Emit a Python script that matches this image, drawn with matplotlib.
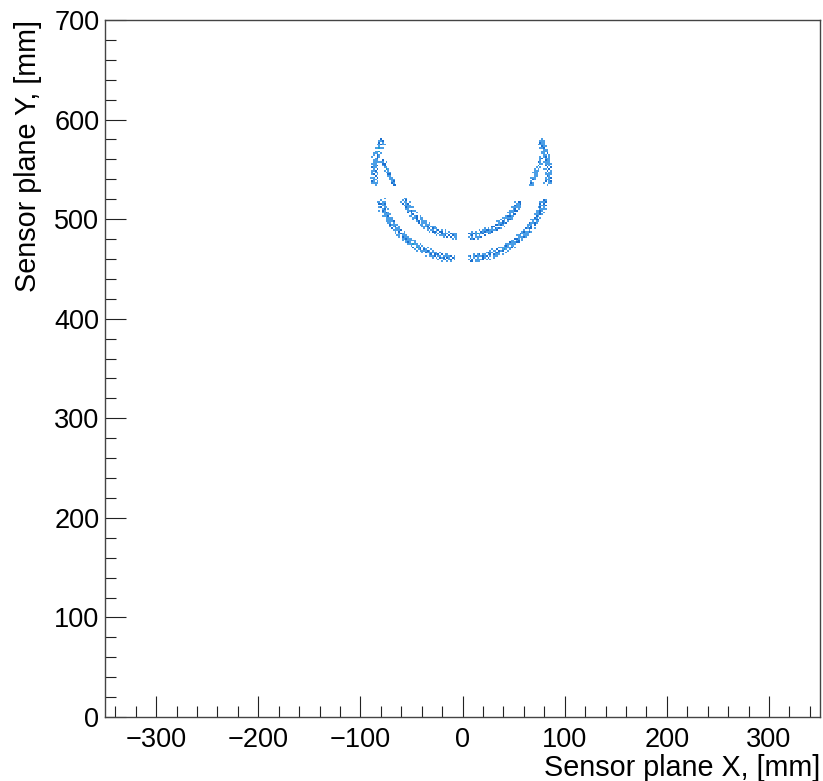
import numpy as np
import matplotlib
matplotlib.use("Agg")
import matplotlib.pyplot as plt
from matplotlib.colors import ListedColormap, BoundaryNorm
from matplotlib.ticker import MultipleLocator

plt.rcParams['font.family'] = ['Liberation Sans', 'DejaVu Sans']

# ---------------- data (hits) ----------------
# ring hits in polar form (angle from downward direction in deg, radius in mm)
OUTER_CENTER_Y = 544.0
INNER_CENTER_Y = 546.0

outer_left = [(-72.8,83.1),(-72.1,85.6),(-71.5,82.4),(-70.9,84.9),(-70.2,86.3),(-69.8,83.7),(-69.1,81.9),(-68.5,84.2),
 (-67.9,85.8),(-67.2,83.0),(-66.8,84.6),(-66.1,82.7),(-65.4,86.0),(-64.9,83.9),(-64.3,85.1),(-63.6,82.2),(-63.0,84.4),
 (-62.4,86.5),(-61.9,83.3),(-61.2,84.8),(-60.6,82.8),(-60.0,85.5),(-59.3,83.6),(-58.8,81.8),(-58.1,84.9),(-57.5,86.1),
 (-56.9,83.2),(-56.2,84.4),(-55.7,82.5),(-55.0,85.7),(-54.4,83.9),(-53.8,84.7),(-53.1,82.1),(-52.6,86.2),(-51.9,83.4),
 (-51.3,85.0),(-50.7,82.9),(-50.0,84.3),(-49.4,85.9),(-48.8,83.1),(-48.1,84.6),(-47.6,82.4),(-46.9,85.3),(-46.3,83.8),
 (-45.7,86.4),(-45.0,82.6),(-44.5,84.5),(-43.8,83.3),(-43.2,85.6),(-42.6,84.0),(-41.9,82.2),(-41.3,85.1),(-40.8,83.6),
 (-40.1,86.0),(-39.5,84.3),(-38.9,82.8),(-38.2,85.4),(-37.7,83.5),(-37.0,84.9),(-36.4,82.3),(-35.8,85.8),(-35.1,83.9),
 (-34.6,84.4),(-33.9,82.6),(-33.3,86.3),(-32.7,83.2),(-32.0,84.7),(-31.5,85.5),(-30.8,82.9),(-30.2,84.1),(-29.6,86.1),
 (-28.9,83.4),(-28.4,84.8),(-27.7,82.5),(-27.1,85.2),(-26.5,83.7),(-25.8,84.3),(-25.3,82.0),(-24.6,85.9),(-24.0,83.6),
 (-23.4,84.6),(-22.7,82.7),(-22.2,86.2),(-21.5,83.3),(-20.9,84.9),(-20.3,82.4),(-19.6,85.4),(-19.1,83.8),(-18.4,84.2),
 (-17.8,86.0),(-17.2,82.9),(-16.5,84.5),(-15.9,83.1),(-15.3,85.7),(-14.7,84.0),(-14.0,82.3),(-13.4,85.1),(-12.8,83.5),
 (-12.2,84.7),(-11.6,86.4),(-10.9,82.8),(-10.3,84.4),(-9.7,83.2),(-9.1,85.6),(-8.4,84.1),(-7.8,82.6),(-7.2,85.0),
 (-6.5,83.7),(-5.9,84.6),(-5.3,82.9)]

outer_left_b = [(-72.5,80.6),(-71.8,87.4),(-71.2,81.3),(-70.6,86.9),(-70.0,84.1),(-69.4,80.9),(-68.8,87.8),(-68.2,82.4),
 (-67.6,85.3),(-67.0,81.0),(-66.4,88.0),(-65.8,83.2),(-65.2,86.1),(-64.6,80.5),(-64.0,87.1),(-63.4,82.8),(-62.8,85.0),
 (-62.2,81.5),(-61.6,87.6),(-61.0,84.0),(-60.4,80.8),(-59.8,86.7),(-59.2,82.0),(-58.6,88.1),(-58.0,83.5),(-57.4,81.2),
 (-56.8,87.2),(-56.2,85.9),(-55.6,80.7),(-55.0,86.5),(-54.4,82.3),(-53.8,87.9),(-53.2,84.6),(-52.6,81.0),(-52.0,86.8),
 (-51.4,83.0),(-50.8,87.5),(-50.2,80.9),(-49.6,85.4),(-49.0,82.1),(-48.4,88.2),(-47.8,84.0),(-47.2,81.4),(-46.6,86.9),
 (-46.0,83.3),(-45.4,80.6),(-44.8,87.3),(-44.2,85.2),(-43.6,81.7),(-43.0,86.6),(-42.4,82.5),(-41.8,88.0),(-41.2,84.3),
 (-40.6,80.8),(-40.0,87.0),(-39.4,83.1),(-38.8,86.2),(-38.2,81.1),(-37.6,87.7),(-37.0,82.9),(-36.4,85.6),(-35.8,80.5),
 (-35.2,87.1),(-34.6,83.8),(-34.0,81.6),(-33.4,86.5),(-32.8,82.2),(-32.2,88.1),(-31.6,84.4),(-31.0,80.9),(-30.4,87.4),
 (-29.8,83.0),(-29.2,85.8),(-28.6,81.3),(-28.0,86.9),(-27.4,82.6),(-26.8,87.6),(-26.2,84.1),(-25.6,80.7),(-25.0,86.3),
 (-24.4,82.9),(-23.8,88.0),(-23.2,83.6),(-22.6,81.2),(-22.0,87.2),(-21.4,85.1),(-20.8,80.8),(-20.2,86.7),(-19.6,82.4),
 (-19.0,87.9),(-18.4,84.8),(-17.8,81.5),(-17.2,86.4),(-16.6,83.2),(-16.0,87.5),(-15.4,80.6),(-14.8,85.5),(-14.2,82.0),
 (-13.6,88.2),(-13.0,84.2),(-12.4,81.0),(-11.8,87.0),(-11.2,83.4),(-10.6,86.1),(-10.0,80.9),(-9.4,87.3),(-8.8,82.7),
 (-8.2,85.7),(-7.6,81.4),(-7.0,86.8),(-6.4,83.9),(-5.8,80.7)]

outer_right = [(4.3,84.2),(4.9,82.1),(5.4,85.9),(6.0,83.4),(6.5,86.8),(7.1,84.7),(7.6,81.6),(8.2,83.9),(8.7,85.3),(9.3,82.7),
 (9.8,84.5),(10.4,87.0),(10.9,83.1),(11.5,85.6),(12.0,81.9),(12.6,84.0),(13.1,86.2),(13.7,82.9),(14.2,84.8),(14.8,83.5),
 (15.3,85.9),(15.9,82.3),(16.4,84.3),(17.0,86.6),(17.5,83.7),(18.1,81.8),(18.6,85.1),(19.2,84.4),(19.7,82.6),(20.3,86.0),
 (20.8,83.2),(21.4,84.9),(21.9,82.0),(22.5,85.7),(23.0,83.8),(23.6,86.9),(24.1,84.1),(24.7,82.4),(25.2,85.3),(25.8,83.6),
 (26.3,84.7),(26.9,81.7),(27.4,86.3),(28.0,83.0),(28.5,85.0),(29.1,84.2),(29.6,82.8),(30.2,86.1),(30.7,83.9),(31.3,85.5),
 (31.8,82.2),(32.4,84.6),(32.9,87.1),(33.5,83.3),(34.0,85.2),(34.6,81.9),(35.1,84.0),(35.7,86.4),(36.2,82.7),(36.8,84.9),
 (37.3,83.4),(37.9,85.8),(38.4,82.1),(39.0,84.5),(39.5,86.7),(40.1,83.6),(40.6,85.4),(41.2,82.5),(41.7,84.1),(42.3,86.0),
 (42.8,83.1),(43.4,84.8),(43.9,81.8),(44.5,85.6),(45.0,83.7),(45.6,86.5),(46.1,84.3),(46.7,82.3),(47.2,85.1),(47.8,83.5),
 (48.3,84.6),(48.9,82.0),(49.4,86.2),(50.0,83.2),(50.5,85.3),(51.1,84.0),(51.6,82.6),(52.2,85.9),(52.7,83.8),(53.3,84.7),
 (53.8,82.2),(54.4,86.3),(54.9,83.4),(55.5,85.0),(56.0,84.2),(56.6,82.8),(57.1,85.7),(57.7,83.0),(58.2,84.5),(58.8,86.6),
 (59.3,82.4),(59.9,84.9),(60.4,83.6),(61.0,85.5),(61.5,82.1),(62.1,84.3),(62.6,86.1),(63.2,83.3),(63.7,85.2),(64.3,82.7),
 (64.8,84.6),(65.4,83.9),(65.9,86.0),(66.5,82.5),(67.0,84.8),(67.6,83.1),(68.1,85.4),(68.7,84.0),(69.2,82.3),(69.8,85.8),
 (70.3,83.7),(70.9,84.5),(71.4,82.9),(72.0,85.1),(72.5,83.5)]

outer_right_b = [(4.6,80.8),(5.2,87.6),(5.8,81.9),(6.4,86.4),(7.0,84.4),(7.6,80.5),(8.2,87.9),(8.8,82.6),(9.4,85.8),
 (10.0,80.9),(10.6,88.2),(11.2,83.3),(11.8,86.3),(12.4,80.6),(13.0,87.2),(13.6,82.9),(14.2,85.2),(14.8,81.3),(15.4,87.7),
 (16.0,84.1),(16.6,80.7),(17.2,86.9),(17.8,82.1),(18.4,88.3),(19.0,83.6),(19.6,81.1),(20.2,87.4),(20.8,85.6),(21.4,80.4),
 (22.0,86.6),(22.6,82.5),(23.2,88.0),(23.8,84.7),(24.4,81.0),(25.0,86.9),(25.6,83.2),(26.2,87.5),(26.8,80.8),(27.4,85.5),
 (28.0,82.3),(28.6,88.1),(29.2,84.2),(29.8,81.5),(30.4,87.1),(31.0,83.4),(31.6,80.6),(32.2,87.3),(32.8,85.3),(33.4,81.8),
 (34.0,86.7),(34.6,82.6),(35.2,88.2),(35.8,84.5),(36.4,80.9),(37.0,87.0),(37.6,83.1),(38.2,86.4),(38.8,81.2),(39.4,87.8),
 (40.0,83.0),(40.6,85.7),(41.2,80.5),(41.8,87.2),(42.4,83.9),(43.0,81.7),(43.6,86.6),(44.2,82.4),(44.8,88.3),(45.4,84.6),
 (46.0,80.8),(46.6,87.5),(47.2,83.1),(47.8,85.9),(48.4,81.4),(49.0,87.0),(49.6,82.7),(50.2,87.7),(50.8,84.3),(51.4,80.7),
 (52.0,86.4),(52.6,83.0),(53.2,88.1),(53.8,83.7),(54.4,81.3),(55.0,87.3),(55.6,85.2),(56.2,80.9),(56.8,86.8),(57.4,82.5),
 (58.0,87.9),(58.6,84.9),(59.2,81.6),(59.8,86.5),(60.4,83.3),(61.0,87.6),(61.6,80.7),(62.2,85.6),(62.8,82.2),(63.4,88.0),
 (64.0,84.3),(64.6,81.1),(65.2,87.1),(65.8,83.5),(66.4,86.2),(67.0,81.0),(67.6,87.4),(68.2,82.8),(68.8,85.8),(69.4,81.5),
 (70.0,86.9),(70.6,84.0),(71.2,80.8),(71.8,86.3),(72.4,82.7),(72.9,85.5)]

inner_left = [(-65.6,62.4),(-64.8,64.9),(-63.9,61.2),(-63.1,63.8),(-62.2,65.5),(-61.4,62.0),(-60.5,64.2),(-59.7,60.9),
 (-58.8,63.3),(-58.0,65.8),(-57.1,62.6),(-56.3,64.6),(-55.4,61.5),(-54.6,63.9),(-53.7,65.2),(-52.9,62.2),(-52.0,63.5),
 (-51.2,61.0),(-50.3,64.8),(-49.5,62.8),(-48.6,65.9),(-47.8,63.1),(-46.9,61.7),(-46.1,64.3),(-45.2,62.5),(-44.4,65.0),
 (-43.5,63.6),(-42.7,61.3),(-41.8,64.0),(-41.0,62.1),(-40.1,65.4),(-39.3,63.2),(-38.4,61.8),(-37.6,64.5),(-36.7,62.9),
 (-35.9,65.6),(-35.0,63.0),(-34.2,61.4),(-33.3,64.1),(-32.5,62.3),(-31.6,65.1),(-30.8,63.7),(-29.9,61.6),(-29.1,64.7),
 (-28.2,62.7),(-27.4,63.4),(-26.5,65.3),(-25.7,61.9),(-24.8,64.4),(-24.0,62.4),(-23.1,63.9),(-22.3,61.1),(-21.4,65.7),
 (-20.6,63.3),(-19.7,62.0),(-18.9,64.6),(-18.0,62.8),(-17.2,65.0),(-16.3,63.5),(-15.5,61.5),(-14.6,64.2),(-13.8,62.6),
 (-12.9,65.4),(-12.1,63.1),(-11.2,61.8),(-10.4,64.8),(-9.5,62.9),(-8.7,63.7),(-7.8,61.3),(-7.0,65.2),(-6.1,63.0),(-5.3,64.1)]

inner_left_b = [(-65.2,59.8),(-64.4,66.4),(-63.5,60.9),(-62.7,65.9),(-61.8,63.2),(-61.0,59.7),(-60.1,66.6),(-59.3,61.4),
 (-58.4,64.5),(-57.6,60.2),(-56.7,66.8),(-55.9,62.3),(-55.0,65.2),(-54.2,59.6),(-53.3,66.1),(-52.5,61.8),(-51.6,64.1),
 (-50.8,60.5),(-49.9,66.5),(-49.1,63.0),(-48.2,59.9),(-47.4,65.7),(-46.5,61.1),(-45.7,66.9),(-44.8,62.6),(-44.0,60.3),
 (-43.1,66.2),(-42.3,64.9),(-41.4,59.8),(-40.6,65.5),(-39.7,61.3),(-38.9,66.7),(-38.0,63.7),(-37.2,60.1),(-36.3,65.8),
 (-35.5,62.1),(-34.6,66.3),(-33.8,59.7),(-32.9,64.4),(-32.1,61.2),(-31.2,66.9),(-30.4,63.1),(-29.5,60.4),(-28.7,65.9),
 (-27.8,62.3),(-27.0,59.6),(-26.1,66.2),(-25.3,64.2),(-24.4,60.8),(-23.6,65.6),(-22.7,61.5),(-21.9,66.8),(-21.0,63.3),
 (-20.2,59.9),(-19.3,66.0),(-18.5,62.0),(-17.6,65.1),(-16.8,60.2),(-15.9,66.6),(-15.1,61.9),(-14.2,64.6),(-13.4,59.7),
 (-12.5,66.1),(-11.7,62.9),(-10.8,60.6),(-10.0,65.4),(-9.1,61.2),(-8.3,66.7),(-7.4,63.4),(-6.6,60.0),(-5.7,65.8)]

inner_right = [(5.2,63.4),(5.9,61.0),(6.6,65.3),(7.3,62.6),(8.0,64.6),(8.7,60.8),(9.4,63.8),(10.1,66.0),(10.8,62.1),
 (11.5,64.2),(12.2,61.5),(12.9,65.1),(13.6,63.0),(14.3,61.9),(15.0,64.9),(15.7,62.8),(16.4,66.2),(17.1,63.5),(17.8,60.9),
 (18.5,64.4),(19.2,62.4),(19.9,65.6),(20.6,63.2),(21.3,61.4),(22.0,64.0),(22.7,62.0),(23.4,65.8),(24.1,63.6),(24.8,61.7),
 (25.5,64.7),(26.2,62.9),(26.9,65.0),(27.6,63.1),(28.3,60.7),(29.0,64.3),(29.7,62.3),(30.4,66.1),(31.1,63.7),(31.8,61.6),
 (32.5,64.8),(33.2,62.5),(33.9,65.4),(34.6,63.3),(35.3,61.2),(36.0,64.1),(36.7,62.7),(37.4,65.9),(38.1,63.9),(38.8,61.8),
 (39.5,64.5),(40.2,62.2),(40.9,65.2),(41.6,63.0),(42.3,60.9),(43.0,64.6),(43.7,62.6),(44.4,65.7),(45.1,63.4),(45.8,61.3),
 (46.5,64.2),(47.2,62.1),(47.9,65.5),(48.6,63.8),(49.3,61.5),(50.0,64.9),(50.7,62.8),(51.4,66.0),(52.1,63.2),(52.8,61.1),
 (53.5,64.4),(54.2,62.4),(54.9,65.3),(55.6,63.6),(56.3,61.9),(57.0,64.0),(57.7,62.0),(58.4,65.1),(59.1,63.1),(59.8,61.4),
 (60.5,64.7),(61.2,62.5),(61.9,63.9),(62.6,62.9),(63.3,64.3)]

inner_right_b = [(5.5,59.9),(6.3,66.5),(7.1,61.0),(7.9,65.8),(8.7,63.3),(9.5,59.6),(10.3,66.7),(11.1,61.5),(11.9,64.6),
 (12.7,60.1),(13.5,66.9),(14.3,62.4),(15.1,65.3),(15.9,59.7),(16.7,66.2),(17.5,61.9),(18.3,64.0),(19.1,60.4),(19.9,66.6),
 (20.7,63.1),(21.5,59.8),(22.3,65.8),(23.1,61.2),(23.9,66.9),(24.7,62.7),(25.5,60.2),(26.3,66.3),(27.1,64.8),(27.9,59.9),
 (28.7,65.6),(29.5,61.4),(30.3,66.8),(31.1,63.6),(31.9,60.0),(32.7,65.9),(33.5,62.2),(34.3,66.4),(35.1,59.6),(35.9,64.5),
 (36.7,61.1),(37.5,66.8),(38.3,63.2),(39.1,60.5),(39.9,66.0),(40.7,62.4),(41.5,59.7),(42.3,66.1),(43.1,64.3),(43.9,60.7),
 (44.7,65.5),(45.5,61.6),(46.3,66.7),(47.1,63.4),(47.9,59.8),(48.7,66.2),(49.5,62.1),(50.3,65.0),(51.1,60.3),(51.9,66.5),
 (52.7,61.8),(53.5,64.7),(54.3,59.8),(55.1,66.0),(55.9,63.0),(56.7,60.6),(57.5,65.3),(58.3,61.3),(59.1,66.6),(59.9,63.5),
 (60.7,60.1),(61.5,65.7),(62.3,62.0),(63.1,64.4)]

top_left = [(-84.2,85.1),(-84.8,87.6),(-85.4,84.3),(-86.0,86.9),(-86.6,88.2),(-87.2,85.6),(-87.8,83.9),(-88.4,86.4),
 (-89.0,87.8),(-89.6,84.8),(-90.2,86.1),(-90.8,88.4),(-91.4,85.3),(-92.0,83.7),(-92.6,86.8),(-93.2,85.0),(-93.8,87.4),
 (-94.4,84.1),(-95.0,86.3),(-95.6,88.0),(-96.2,85.5),(-96.8,83.8),(-97.4,87.1),(-98.0,86.0),(-98.6,84.6),(-99.2,87.9),
 (-99.8,85.2),(-100.4,86.6),(-101.0,84.0),(-101.6,87.3),(-102.2,85.8),(-102.8,88.3),(-103.4,84.9),(-104.0,86.2),
 (-104.6,83.6),(-105.2,87.0),(-105.8,85.4),(-106.4,86.7),(-107.0,84.4),(-107.6,87.7),(-108.2,85.1),(-108.8,86.4),
 (-109.4,84.2),(-110.0,87.2),(-110.6,85.7),(-111.2,86.5),(-111.8,84.7),(-112.4,87.5),(-113.0,85.3),(-113.6,86.1),
 (-114.2,84.5),(-114.8,86.8)]

top_left_b = [(-84.5,82.8),(-85.2,89.2),(-86.0,83.9),(-86.7,88.6),(-87.5,86.2),(-88.2,82.6),(-89.0,89.4),(-89.7,84.4),
 (-90.5,87.5),(-91.2,83.0),(-92.0,89.0),(-92.7,85.1),(-93.5,88.1),(-94.2,82.7),(-95.0,88.9),(-95.7,84.8),(-96.5,87.0),
 (-97.2,83.4),(-98.0,89.3),(-98.7,86.0),(-99.5,82.9),(-100.2,88.5),(-101.0,84.0),(-101.7,89.5),(-102.5,85.4),(-103.2,83.1),
 (-104.0,88.8),(-104.7,87.6),(-105.5,82.7),(-106.2,88.3),(-107.0,84.3),(-107.7,89.1),(-108.5,86.5),(-109.2,83.0),
 (-110.0,88.7),(-110.7,84.9),(-111.5,87.9),(-112.2,82.9),(-113.0,88.2),(-113.7,84.6),(-114.4,87.1)]

top_right = [(84.1,83.2),(84.7,85.8),(85.3,82.1),(85.9,84.6),(86.5,86.5),(87.1,83.7),(87.7,81.8),(88.3,84.9),(88.9,86.1),
 (89.5,82.9),(90.1,84.3),(90.7,86.8),(91.3,83.4),(91.9,81.6),(92.5,85.1),(93.1,83.0),(93.7,85.7),(94.3,82.4),(94.9,84.5),
 (95.5,86.3),(96.1,83.6),(96.7,82.0),(97.3,85.4),(97.9,84.1),(98.5,82.7),(99.1,86.0),(99.7,83.3),(100.3,84.8),(100.9,82.2),
 (101.5,85.5),(102.1,83.9),(102.7,86.4),(103.3,82.8),(103.9,84.2),(104.5,81.9),(105.1,85.2),(105.7,83.5),(106.3,84.9),
 (106.9,82.5),(107.5,86.2),(108.1,83.1),(108.7,84.6),(109.3,82.3),(109.9,85.6),(110.5,83.8),(111.1,84.4),(111.7,82.6),
 (112.3,85.3),(112.9,83.4),(113.5,84.0),(114.1,82.9),(114.7,85.0)]

top_right_b = [(84.4,80.8),(85.1,87.2),(85.9,81.9),(86.6,86.6),(87.4,84.2),(88.1,80.6),(88.9,87.4),(89.6,82.4),(90.4,85.5),
 (91.1,81.0),(91.9,87.0),(92.6,83.1),(93.4,86.1),(94.1,80.7),(94.9,86.9),(95.6,82.8),(96.4,85.0),(97.1,81.4),(97.9,87.3),
 (98.6,84.0),(99.4,80.9),(100.1,86.5),(100.9,82.0),(101.6,87.5),(102.4,83.4),(103.1,81.1),(103.9,86.8),(104.6,85.6),
 (105.4,80.7),(106.1,86.3),(106.9,82.3),(107.6,87.1),(108.4,84.5),(109.1,81.0),(109.9,86.7),(110.6,82.9),(111.4,85.9),
 (112.1,80.9),(112.9,86.2),(113.6,82.6),(114.3,85.1)]

# branch hits in cartesian form (x, y) in mm
branch_left = [(-78.3,558.6),(-77.1,557.9),(-77.8,556.2),(-76.2,555.8),(-76.9,554.1),(-75.4,553.6),(-76.0,551.9),
 (-74.3,552.0),(-74.9,549.8),(-73.6,549.5),(-74.2,547.6),(-72.5,547.3),(-73.1,545.4),(-71.6,545.2),(-72.0,543.1),
 (-70.5,543.0),(-71.0,541.0),(-69.3,540.6),(-69.9,538.7),(-68.2,538.4),(-68.6,536.5),(-67.0,536.3),(-67.5,534.8),
 (-66.1,535.2),(-75.1,557.0),(-72.4,549.0),(-70.2,544.5),(-67.9,539.8),(-78.6,555.3),(-73.0,551.2),
 (-77.4,559.3),(-78.9,557.0),(-75.8,554.9),(-77.3,553.0),(-73.8,550.7),(-75.6,549.0),(-71.3,546.5),(-72.8,544.3),
 (-69.6,542.2),(-70.4,539.9),(-67.7,537.8),(-68.3,536.0),(-66.3,533.9),(-67.6,534.2)]

branch_right = [(77.2,561.3),(76.0,560.1),(76.8,558.6),(75.3,557.4),(76.0,556.0),(74.4,554.7),(75.1,553.2),(73.4,552.0),
 (74.0,550.4),(72.3,549.3),(72.9,547.6),(71.2,546.7),(71.8,545.0),(70.1,544.0),(70.7,542.2),(69.0,541.4),(69.5,539.5),
 (67.9,538.8),(68.4,537.0),(66.9,536.4),(67.2,534.6),(66.0,535.0),(73.8,556.5),(71.6,551.0),(69.6,546.0),(67.9,541.5),
 (78.0,560.4),(76.6,562.0),(74.6,556.9),(77.0,555.5),(73.5,553.9),(75.6,551.8),(71.4,548.5),(73.8,548.0),(70.3,545.5),
 (72.2,543.6),(68.3,540.2),(70.5,539.3),(66.5,536.9),(68.6,535.2)]

X_RANGE = (-350, 350)
Y_RANGE = (0, 700)
BIN_MM = 1.75
x_major = [-300, -200, -100, 0, 100, 200, 300]
y_major = [0, 100, 200, 300, 400, 500, 600, 700]
x_label = "Sensor plane X, [mm]"
y_label = "Sensor plane Y, [mm]"
count_colors = ["#4a9ee6", "#1c70cf", "#15a0c8", "#62bd78", "#f0c234"]
count_bounds = [0.5, 1.5, 2.5, 3.5, 4.5, 50]


def polar_to_xy(hits, yc):
    a = np.radians([h[0] for h in hits])
    r = np.array([h[1] for h in hits])
    return r * np.sin(a), yc - r * np.cos(a)


xs, ys = [], []
for seg, yc in [(outer_left, OUTER_CENTER_Y), (outer_left_b, OUTER_CENTER_Y),
                (outer_right, OUTER_CENTER_Y), (outer_right_b, OUTER_CENTER_Y),
                (inner_left, INNER_CENTER_Y), (inner_left_b, INNER_CENTER_Y),
                (inner_right, INNER_CENTER_Y), (inner_right_b, INNER_CENTER_Y),
                (top_left, OUTER_CENTER_Y), (top_left_b, OUTER_CENTER_Y),
                (top_right, OUTER_CENTER_Y), (top_right_b, OUTER_CENTER_Y)]:
    x, y = polar_to_xy(seg, yc)
    xs.append(x); ys.append(y)
for seg in (branch_left, branch_right):
    xs.append(np.array([p[0] for p in seg])); ys.append(np.array([p[1] for p in seg]))
xs = np.concatenate(xs); ys = np.concatenate(ys)

xedges = np.arange(X_RANGE[0], X_RANGE[1] + 1e-6, BIN_MM)
yedges = np.arange(Y_RANGE[0], Y_RANGE[1] + 1e-6, BIN_MM)
H, _, _ = np.histogram2d(xs, ys, bins=[xedges, yedges])
Hm = np.ma.masked_equal(H.T, 0)

cmap = ListedColormap(count_colors)
norm = BoundaryNorm(count_bounds, cmap.N)

fig = plt.figure(figsize=(8.23, 7.81), dpi=100)
ax = fig.add_axes([105 / 823, 64 / 781, 715 / 823, 697 / 781])
ax.pcolormesh(xedges, yedges, Hm, cmap=cmap, norm=norm, shading="flat")

ax.set_xlim(*X_RANGE)
ax.set_ylim(*Y_RANGE)
ax.set_xticks(x_major)
ax.set_yticks(y_major)
ax.xaxis.set_minor_locator(MultipleLocator(20))
ax.yaxis.set_minor_locator(MultipleLocator(20))
ax.tick_params(which="both", direction="in", top=False, right=False, width=0.8, color="#222222")
ax.tick_params(which="major", length=15.1, labelsize=19.5)
ax.tick_params(axis="x", which="major", pad=7)
ax.tick_params(axis="y", which="major", pad=4)
ax.tick_params(which="minor", length=7.6)
for s in ax.spines.values():
    s.set_color("#444444")
    s.set_linewidth(1.0)

ax.set_xlabel(x_label, fontsize=20.7, loc="right", labelpad=1)
ax.set_ylabel(y_label, fontsize=20.7, loc="top", labelpad=9)

fig.savefig("out.png", dpi=100)
